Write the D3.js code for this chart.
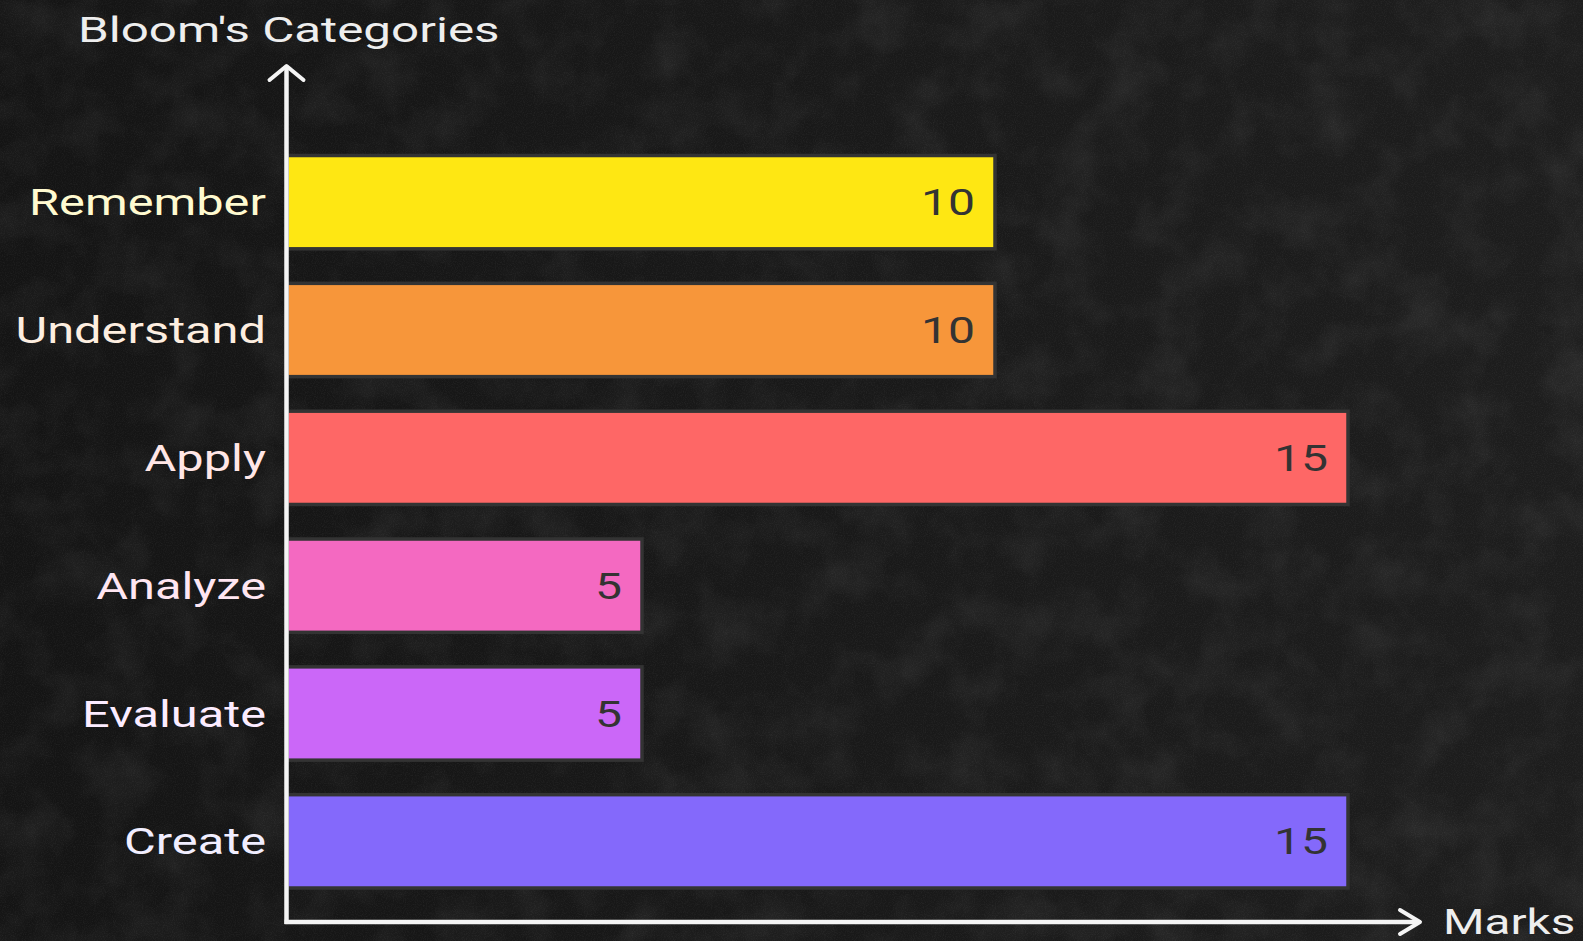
<!DOCTYPE html>
<html>
<head>
<meta charset="utf-8">
<script src="https://cdn.jsdelivr.net/npm/d3@7"></script>
<style>
  html, body { margin: 0; padding: 0; background: #1b1b1b; overflow: hidden; }
  text { font-family: Roboto, "Noto Sans", sans-serif; }
</style>
</head>
<body>
<div id="chart"></div>
<script>
var categories = ["Remember", "Understand", "Apply", "Analyze", "Evaluate", "Create"];
var marks = [10, 10, 15, 5, 5, 15];
var barColors = ["#fee713", "#f7963a", "#fe6766", "#f469c1", "#cb67f8", "#8469fb"];
var labelColors = ["#fffad0", "#fdeee0", "#ffe6e6", "#ffe6f2", "#fcecff", "#f1eeff"];
var xTicks = [0, 15];

var width = 1583, height = 941;
var sx = 1.3; // the original text looks stretched sideways

var svg = d3.select("#chart").append("svg")
  .attr("width", width)
  .attr("height", height);

// textured blackboard background
var defs = svg.append("defs");
var f = defs.append("filter").attr("id", "grain")
  .attr("x", 0).attr("y", 0).attr("width", "100%").attr("height", "100%");
f.append("feTurbulence").attr("type", "fractalNoise")
  .attr("baseFrequency", 0.9).attr("numOctaves", 2).attr("seed", 3).attr("result", "n");
f.append("feColorMatrix").attr("type", "matrix")
  .attr("values", "0 0 0 0 1  0 0 0 0 1  0 0 0 0 1  0.6 0 0 0 -0.25");
var f2 = defs.append("filter").attr("id", "blotch")
  .attr("x", 0).attr("y", 0).attr("width", "100%").attr("height", "100%");
f2.append("feTurbulence").attr("type", "fractalNoise")
  .attr("baseFrequency", 0.02).attr("numOctaves", 4).attr("seed", 8);
f2.append("feColorMatrix").attr("type", "matrix")
  .attr("values", "0 0 0 0 1  0 0 0 0 1  0 0 0 0 1  0.12 0 0 0 -0.05");

var grad = defs.append("linearGradient").attr("id", "bg")
  .attr("x1", 0).attr("y1", 0).attr("x2", 1).attr("y2", 0);
grad.append("stop").attr("offset", "0%").attr("stop-color", "#141414");
grad.append("stop").attr("offset", "100%").attr("stop-color", "#1d1d1d");

svg.append("rect").attr("width", width).attr("height", height).attr("fill", "url(#bg)");
svg.append("rect").attr("width", width).attr("height", height).attr("filter", "url(#blotch)");
svg.append("rect").attr("width", width).attr("height", height).attr("filter", "url(#grain)").style("opacity", 0.18);

// scales
var x = d3.scaleLinear()
  .domain([xTicks[0], xTicks[1]])
  .range([289, 1348]);

var y = d3.scaleBand()
  .domain(categories)
  .range([155.5, 888])
  .paddingInner(0.27);

var data = categories.map(function(c, i) {
  return { cat: c, value: marks[i], color: barColors[i], lc: labelColors[i] };
});

// bars
svg.selectAll(".bar")
  .data(data)
  .enter()
  .append("rect")
  .attr("class", "bar")
  .attr("x", x(0) - 2)
  .attr("y", function(d) { return y(d.cat); })
  .attr("width", function(d) { return x(d.value) - x(0) + 2; })
  .attr("height", y.bandwidth())
  .attr("fill", function(d) { return d.color; })
  .attr("stroke", "#333333")
  .attr("stroke-width", 3.5);

// value labels inside bars
svg.selectAll(".val")
  .data(data)
  .enter()
  .append("text")
  .attr("class", "val")
  .attr("transform", function(d) {
    return "translate(" + (x(d.value) - 20) + "," + (y(d.cat) + y.bandwidth() / 2 + 13) + ") scale(" + sx + ",1)";
  })
  .attr("text-anchor", "end")
  .style("font-size", "37px")
  .attr("fill", "#333333")
  .text(function(d) { return d.value; });

// category labels
svg.selectAll(".cat")
  .data(data)
  .enter()
  .append("text")
  .attr("class", "cat")
  .attr("transform", function(d) {
    return "translate(266," + (y(d.cat) + y.bandwidth() / 2 + 13) + ") scale(" + sx + ",1)";
  })
  .attr("text-anchor", "end")
  .style("font-size", "37.5px")
  .attr("fill", function(d) { return d.lc; })
  .text(function(d) { return d.cat; });

// axes with arrow heads
var axisColor = "#f4f4f4";
var x0 = 286.5, yBase = 922;
svg.append("line")
  .attr("x1", x0).attr("y1", 66).attr("x2", x0).attr("y2", yBase + 2)
  .attr("stroke", axisColor).attr("stroke-width", 4.5);
svg.append("line")
  .attr("x1", x0 - 2).attr("y1", yBase).attr("x2", 1419).attr("y2", yBase)
  .attr("stroke", axisColor).attr("stroke-width", 4.5);
svg.append("path")
  .attr("d", "M" + (x0 - 17) + ",80 L" + x0 + ",66 L" + (x0 + 17) + ",80")
  .attr("fill", "none").attr("stroke", axisColor).attr("stroke-width", 4)
  .attr("stroke-linecap", "round").attr("stroke-linejoin", "round");
svg.append("path")
  .attr("d", "M1400," + (yBase - 12) + " L1420," + yBase + " L1400," + (yBase + 12))
  .attr("fill", "none").attr("stroke", axisColor).attr("stroke-width", 4)
  .attr("stroke-linecap", "round").attr("stroke-linejoin", "round");

// axis titles
svg.append("text")
  .attr("transform", "translate(78,42) scale(1.39,1)")
  .style("font-size", "35.5px")
  .attr("fill", "#eeeeee")
  .text("Bloom's Categories");

svg.append("text")
  .attr("transform", "translate(1443,934) scale(1.36,1)")
  .style("font-size", "35px")
  .attr("fill", "#eeeeee")
  .text("Marks");
</script>
</body>
</html>
